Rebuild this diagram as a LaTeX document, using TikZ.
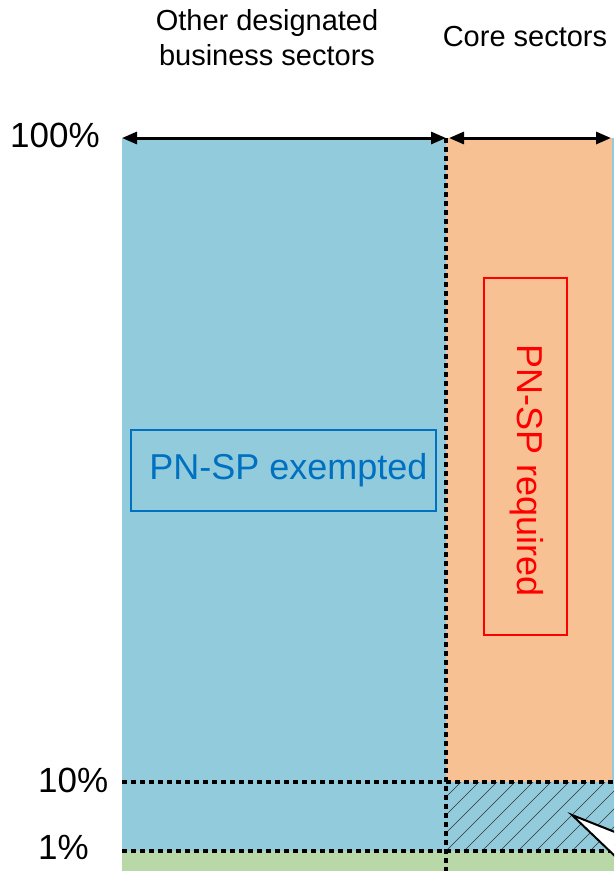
\documentclass[tikz,border=0pt]{standalone}
\usepackage{fontspec}
\setmainfont{Liberation Sans}
\usepackage{tikz}
\usetikzlibrary{arrows.meta}
\definecolor{otherblue}{HTML}{92CBDC}
\definecolor{coreorange}{HTML}{F8C194}
\definecolor{smallgreen}{HTML}{B9D8A8}
\definecolor{exblue}{HTML}{0070C0}
\tikzstyle{pct}=[anchor=west, inner sep=0pt, font=\fontsize{35}{40}\selectfont]
\tikzstyle{head}=[align=center, inner sep=0pt, font=\fontsize{29}{35}\selectfont]
\tikzstyle{arrow}=[draw=black, line width=3pt, {Triangle[length=15pt,width=12pt]}-{Triangle[length=15pt,width=12pt]}]
\tikzstyle{dots}=[draw=black, line width=4pt, dash pattern=on 5pt off 4pt]
\tikzstyle{hatch}=[draw=black!80, line width=0.6pt]
\tikzstyle{exbox}=[draw=exblue, line width=2.5pt, text=exblue, minimum width=305pt, minimum height=81pt, font=\fontsize{36}{40}\selectfont]
\tikzstyle{reqbox}=[draw=red, line width=2.5pt, minimum width=83pt, minimum height=357pt]
\tikzstyle{reqtext}=[text=red, inner sep=0pt, rotate=-90, font=\fontsize{36}{40}\selectfont]

\begin{document}
\begin{tikzpicture}[x=1pt, y=-1pt]
		   \useasboundingbox (0, 0) rectangle (614, 871);
		   \begin{scope}
			   \fill[otherblue] (122, 138) rectangle (614, 851);
			   \fill[coreorange] (446, 138) rectangle (612, 782);
			   \fill[smallgreen] (122, 851) rectangle (614, 871);
		   \end{scope}
		   \begin{scope}
			   \clip (446, 782) rectangle (614, 851);
			   \foreach \s in {0, 18, ..., 252} {
				   \draw[hatch] (446 + \s - 90, 851) -- ++(90, -90);
			   }
		   \end{scope}
		   \begin{scope}
			   \coordinate (a) at (122, 138);
			   \coordinate (b) at (446, 138);
			   \coordinate (c) at (449, 138);
			   \coordinate (d) at (611, 138);
			   \coordinate (b0) at (446, 871);
			   \coordinate (t1) at (122, 782);
			   \coordinate (t2) at (614, 782);
			   \coordinate (o1) at (122, 851);
			   \coordinate (o2) at (614, 851);
		   \end{scope}
		   \begin{scope}
			   \path [dots] (t1) edge (t2);
			   \path [dots] (o1) edge (o2);
			   \path [dots] (b) edge (b0);
			   \draw [arrow] (a) -- (b);
			   \draw [arrow] (c) -- (d);
		   \end{scope}
		   \begin{scope}
			   \node (other) at (267, 38)[head] {Other designated\\business sectors};
			   \node (core) at (525, 37)[head] {Core sectors};
			   \node (p100) at (10, 135)[pct] {100\%};
			   \node (p10) at (38, 780)[pct] {10\%};
			   \node (p1) at (38, 847)[pct] {1\%};
			   \node (exempt) at (283.5, 470.5)[exbox] {\hspace*{10pt}PN-SP exempted};
			   \node (reqframe) at (525.5, 456.5)[reqbox] {};
			   \node (req) at (527, 471)[reqtext] {PN-SP required};
		   \end{scope}
		   \begin{scope}
			   \clip (0, 0) rectangle (614, 871);
			   \coordinate (tip) at (572, 815);
			   \draw[fill=white, line width=2pt, line join=miter] (tip) -- (640, 842) -- (640, 880) -- cycle;
		   \end{scope}
	   \end{tikzpicture}
\end{document}
